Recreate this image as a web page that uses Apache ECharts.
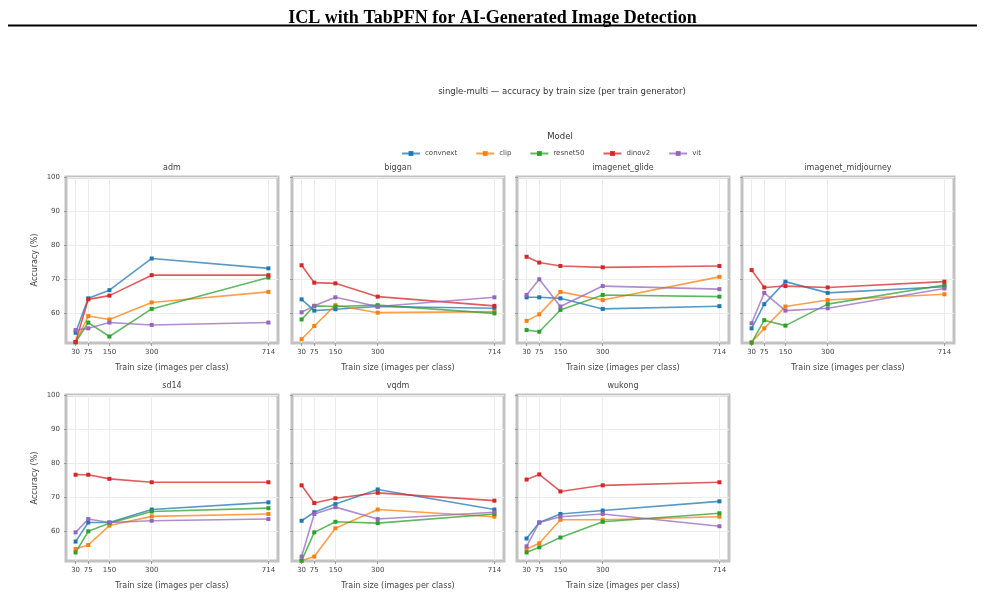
<!DOCTYPE html>
<html>
<head>
<meta charset="utf-8">
<script src="https://cdn.jsdelivr.net/npm/echarts@6/dist/echarts.min.js"></script>
<style>
  html, body { margin: 0; padding: 0; background: #fff; }
  #main { width: 985px; height: 611px; }
</style>
</head>
<body>
<div id="main"></div>
<script>
const trainSizes = [30, 75, 150, 300, 714];
const models = ['convnext', 'clip', 'resnet50', 'dinov2', 'vit'];
const colors = ['#1f77b4', '#ff7f0e', '#2ca02c', '#d62728', '#9467bd'];
const generators = ['adm', 'biggan', 'imagenet_glide', 'imagenet_midjourney', 'sd14', 'vqdm', 'wukong'];
const yTicks = [60, 70, 80, 90, 100];

// accuracy (%) per model, rows follow `models`, columns follow `trainSizes`
const accAdm = [
  [54.3, 64.4, 66.8, 76.1, 73.2],
  [51.5, 59.2, 58.2, 63.2, 66.3],
  [51.5, 57.3, 53.2, 61.3, 70.5],
  [51.6, 64.1, 65.2, 71.2, 71.2],
  [55.1, 55.6, 57.3, 56.6, 57.3]
];
const accBiggan = [
  [64.1, 60.8, 61.2, 62.0, 61.5],
  [52.4, 56.3, 62.4, 60.2, 60.5],
  [58.2, 62.2, 62.0, 62.4, 60.0],
  [74.1, 69.0, 68.8, 64.9, 62.2],
  [60.3, 62.2, 64.7, 62.0, 64.7]
];
const accGlide = [
  [64.7, 64.7, 64.4, 61.3, 62.1],
  [57.8, 59.7, 66.3, 63.9, 70.7],
  [55.1, 54.6, 61.0, 65.4, 64.9],
  [76.6, 74.9, 73.9, 73.5, 73.9],
  [65.4, 70.0, 62.0, 68.0, 67.1]
];
const accMidjourney = [
  [55.6, 62.7, 69.3, 66.0, 67.8],
  [51.5, 55.6, 62.0, 63.9, 65.6],
  [51.4, 58.0, 56.4, 62.7, 68.3],
  [72.7, 67.6, 68.0, 67.6, 69.3],
  [57.1, 66.0, 60.8, 61.5, 67.3]
];
const accSd14 = [
  [57.0, 62.6, 62.6, 66.4, 68.5],
  [54.8, 56.0, 61.7, 64.4, 65.1],
  [53.8, 60.0, 62.4, 65.8, 66.8],
  [76.6, 76.6, 75.4, 74.4, 74.4],
  [59.7, 63.6, 62.6, 63.1, 63.6]
];
const accVqdm = [
  [63.1, 65.6, 68.0, 72.3, 66.4],
  [51.4, 52.6, 60.9, 66.4, 64.3],
  [51.4, 59.7, 62.8, 62.4, 65.1],
  [73.5, 68.3, 69.7, 71.3, 69.0],
  [52.6, 65.1, 67.1, 63.6, 65.6]
];
const accWukong = [
  [57.9, 62.6, 65.1, 66.1, 68.8],
  [54.8, 56.5, 63.4, 63.4, 64.3],
  [53.8, 55.3, 58.2, 62.8, 65.3],
  [75.2, 76.7, 71.7, 73.5, 74.4],
  [55.6, 62.6, 64.3, 65.1, 61.5]
];
const accuracy = [accAdm, accBiggan, accGlide, accMidjourney, accSd14, accVqdm, accWukong];

const colLeft = [66, 292, 517, 742];
const rowTop = [177, 395];
const panelW = 212, panelH = 166;
const txt = '#444';
const font = 'DejaVu Sans';

const grids = [], xAxes = [], yAxes = [], series = [];
const graphics = [
  { type: 'line', shape: { x1: 8, y1: 25.5, x2: 977, y2: 25.5 }, style: { stroke: '#000', lineWidth: 2 } },
  { type: 'text', x: 562, y: 92, style: { text: 'single-multi — accuracy by train size (per train generator)', font: '8.5px "DejaVu Sans"', fill: '#333', textAlign: 'center', textVerticalAlign: 'middle' } },
  { type: 'text', x: 560, y: 137, style: { text: 'Model', font: '8.5px "DejaVu Sans"', fill: '#333', textAlign: 'center', textVerticalAlign: 'middle' } }
];

generators.forEach((g, i) => {
  const row = Math.floor(i / 4), col = i % 4;
  const left = colLeft[col], top = rowTop[row];
  grids.push({
    left: left, top: top, width: panelW, height: panelH,
    show: true, borderColor: '#c2c2c2', borderWidth: 3, backgroundColor: '#fff'
  });
  graphics.push({
    type: 'text', x: left + panelW / 2, y: top - 9,
    style: { text: g, font: '8px "DejaVu Sans"', fill: txt, textAlign: 'center', textVerticalAlign: 'middle' }
  });
  xAxes.push({
    type: 'value', gridIndex: i, min: -4, max: 748,
    name: 'Train size (images per class)', nameLocation: 'middle', nameGap: 21,
    nameTextStyle: { fontSize: 8, color: txt, fontFamily: font },
    axisLine: { show: false },
    axisTick: { show: true, length: 3, lineStyle: { color: '#999' }, customValues: trainSizes },
    axisLabel: { fontSize: 7, color: txt, fontFamily: font, margin: 6, hideOverlap: false, customValues: trainSizes },
    splitLine: { show: true, lineStyle: { color: '#ececec', width: 1 } }
  });
  yAxes.push({
    type: 'value', gridIndex: i, min: 51.3, max: 100,
    name: col === 0 ? 'Accuracy (%)' : '', nameLocation: 'middle', nameGap: 27,
    nameTextStyle: { fontSize: 8, color: txt, fontFamily: font },
    axisLine: { show: false },
    axisTick: { show: true, length: 3, lineStyle: { color: '#999' }, customValues: yTicks },
    axisLabel: { show: col === 0, fontSize: 7, color: txt, fontFamily: font, margin: 6, customValues: yTicks },
    splitLine: { show: true, lineStyle: { color: '#ececec', width: 1 } }
  });
  models.forEach((m, k) => {
    series.push({
      name: m, type: 'line', xAxisIndex: i, yAxisIndex: i,
      data: trainSizes.map((s, j) => [s, accuracy[i][k][j]]),
      symbol: 'rect', symbolSize: 4, clip: false,
      itemStyle: { color: colors[k] },
      lineStyle: { width: 1.6, opacity: 0.75 },
      animation: false
    });
  });
});

const chart = echarts.init(document.getElementById('main'));
chart.setOption({
  animation: false,
  color: colors,
  title: {
    text: 'ICL with TabPFN for AI-Generated Image Detection',
    left: 'center', top: 4,
    textStyle: { fontFamily: 'Liberation Serif', fontWeight: 'bold', fontSize: 18, color: '#000' }
  },
  legend: {
    data: models, left: 396, top: 145,
    itemWidth: 18, itemHeight: 6, itemGap: 18,
    textStyle: { fontSize: 7, color: txt, fontFamily: font }
  },
  graphic: graphics,
  grid: grids,
  xAxis: xAxes,
  yAxis: yAxes,
  series: series
});
</script>
</body>
</html>
